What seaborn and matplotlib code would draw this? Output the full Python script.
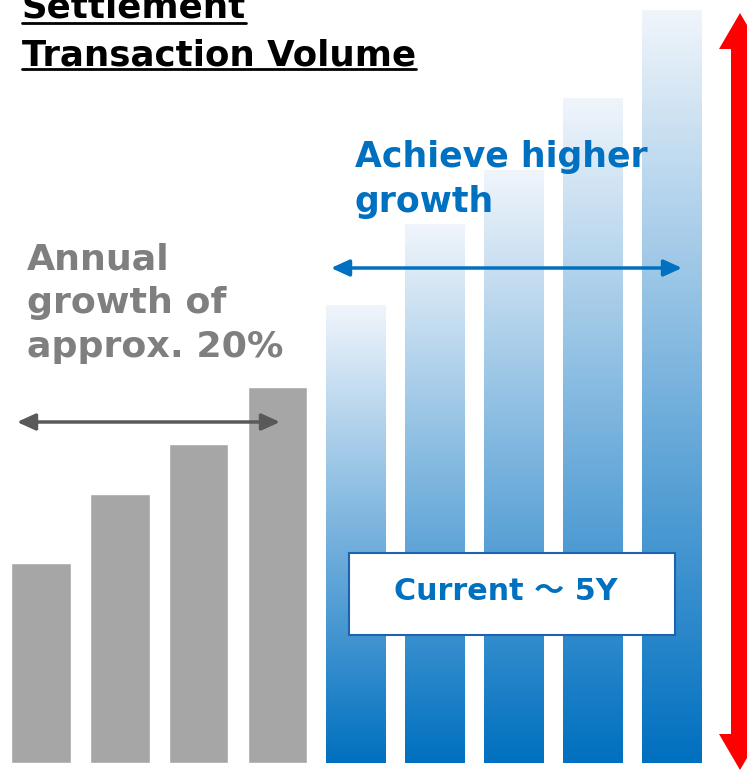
import matplotlib
matplotlib.use('Agg')
import matplotlib.pyplot as plt
from matplotlib.colors import LinearSegmentedColormap, to_hex
from matplotlib.patches import FancyArrow, Rectangle
import numpy as np
import pandas as pd
import seaborn as sns

# data (relative volume)
periods = ['Y-4', 'Y-3', 'Y-2', 'Y-1', 'Y1', 'Y2', 'Y3', 'Y4', 'Y5']
volume = [200, 269, 319, 376, 458, 539, 593, 665, 753]
phase = ['past', 'past', 'past', 'past', 'future', 'future', 'future', 'future', 'future']

GRAY = '#a6a6a6'
BLUE = '#0070c0'

sns.set_style('white')
plt.rcParams['font.family'] = ['DejaVu Sans', 'Noto Sans CJK JP']

df = pd.DataFrame({'period': periods, 'volume': volume, 'phase': phase})

fig = plt.figure(figsize=(7.47, 7.70), dpi=100)
ax = fig.add_axes([0, 0, 1, 1])
sns.barplot(data=df, x='period', y='volume', hue='phase',
            palette={'past': GRAY, 'future': BLUE}, dodge=False,
            width=0.755, saturation=1, legend=False, ax=ax)

# gradient fill for the future bars
cmap = LinearSegmentedColormap.from_list('grad', [BLUE, '#f0f5fb'])
grad = np.linspace(0, 1, 256)[:, None]
for p in list(ax.patches):
    if to_hex(p.get_facecolor()) == BLUE:
        x0, y0 = p.get_x(), p.get_y()
        w, h = p.get_width(), p.get_height()
        im = ax.imshow(grad, extent=[x0, x0 + w, y0, y0 + h], origin='lower',
                       aspect='auto', cmap=cmap, zorder=p.get_zorder() + 0.1)
        im.set_clip_path(p)

ax.set_xlim(-0.52, 8.96)
ax.set_ylim(-7, 763)
ax.axis('off')

# overlay in pixel coordinates for annotations
ov = fig.add_axes([0, 0, 1, 1])
ov.set_xlim(0, 747)
ov.set_ylim(770, 0)
ov.axis('off')
ov.patch.set_alpha(0)

t1 = ov.text(22, 18, 'Settlement', fontsize=25.7, fontweight='bold', color='black',
             ha='left', va='baseline')
t2 = ov.text(22, 65, 'Transaction Volume', fontsize=25.7, fontweight='bold', color='black',
             ha='left', va='baseline')

for txt, y in zip(['Annual', 'growth of', 'approx. 20%'], [269, 313, 357]):
    ov.text(27, y, txt, fontsize=26.2, fontweight='bold', color='#7f7f7f',
            ha='left', va='baseline')
for txt, y in zip(['Achieve higher', 'growth'], [167, 212]):
    ov.text(355, y, txt, fontsize=25, fontweight='bold', color=BLUE,
            ha='left', va='baseline')

ov.annotate('', xy=(17, 422), xytext=(280, 422),
            arrowprops=dict(arrowstyle='<|-|>,head_length=1.1,head_width=0.5',
                            color='#595959', lw=2.5, mutation_scale=10,
                            shrinkA=0, shrinkB=0))
ov.annotate('', xy=(331, 268), xytext=(682, 268),
            arrowprops=dict(arrowstyle='<|-|>,head_length=1.1,head_width=0.5',
                            color=BLUE, lw=2.5, mutation_scale=10,
                            shrinkA=0, shrinkB=0))

# red double arrow on the right
for tip in (13, 770):
    ov.add_patch(FancyArrow(740, 390, 0, tip - 390, width=18, head_width=42,
                            head_length=36, length_includes_head=True,
                            color='#ff0000', lw=0))

ov.add_patch(Rectangle((349, 553), 326, 82, facecolor='white',
                       edgecolor='#1f62b0', lw=1.5, zorder=3))
ov.text(506, 592, 'Current ～ 5Y', fontsize=21.7, fontweight='bold', color=BLUE,
        ha='center', va='center', zorder=4)

fig.canvas.draw()
inv = ov.transData.inverted()
for t, y in ((t1, 23), (t2, 69)):
    bb = t.get_window_extent()
    xa = inv.transform((bb.x0, 0))[0]
    xb = inv.transform((bb.x1, 0))[0]
    ov.plot([xa, xb], [y, y], color='black', lw=2)

fig.savefig('out.png', dpi=100)
